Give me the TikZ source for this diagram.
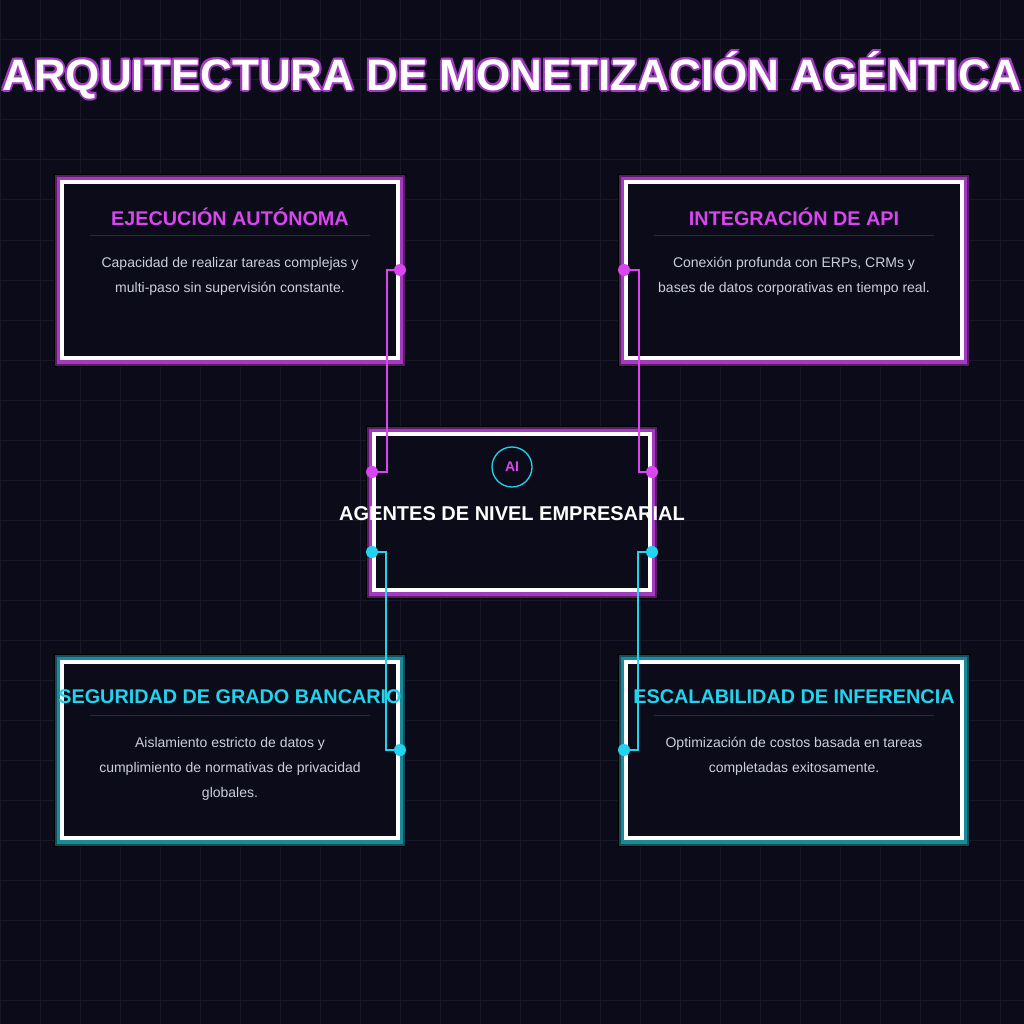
\documentclass[tikz,border=0pt]{standalone}
\usepackage{fontspec}
\setmainfont{Liberation Sans}
\definecolor{bg}{HTML}{0B0B1A}
\definecolor{gridc}{HTML}{181828}
\definecolor{mag}{HTML}{D946EF}
\definecolor{cyn}{HTML}{22D3EE}
\definecolor{magA}{HTML}{5C1A6A}
\definecolor{magB}{HTML}{A23BBF}
\definecolor{cynA}{HTML}{0E4F5B}
\definecolor{cynB}{HTML}{1A8A9A}
\definecolor{body}{HTML}{CBD0DC}
\definecolor{sep}{HTML}{2C2C40}
\tikzset{
 boxtitle/.style={font=\fontsize{19.8}{22}\selectfont\bfseries,anchor=center},
 boxbody/.style={font=\fontsize{14}{25}\selectfont,text=body,align=center,anchor=north},
 conn/.style={line width=1.5pt},
 dot/.style={circle,inner sep=0pt,minimum size=12pt},
 titlef/.style={font=\fontsize{44}{50}\selectfont\bfseries},
}
\newcommand{\glowbox}[6]{% x1 y1 x2 y2 colA colB
 \fill[black] (#1-6,#2-6) rectangle (#3+6,#4+7);
 \fill[#5] (#1-5,#2-5) rectangle (#3+5,#4+6);
 \fill[#6] (#1-3,#2-3) rectangle (#3+3,#4+4);
 \fill[bg] (#1,#2) rectangle (#3,#4);
 \draw[white,line width=4pt] (#1+2,#2+2) rectangle (#3-2,#4-2);
}
\begin{document}
\begin{tikzpicture}[x=1pt,y=-1pt]
\fill[bg] (0,0) rectangle (1024,1024);
\useasboundingbox (0,0) rectangle (1024,1024);
\foreach \i in {0,40,...,1000}{
 \draw[gridc,line width=1pt] (\i,0) -- (\i,1024);
 \draw[gridc,line width=1pt] (0,\i) -- (1024,\i);}
% title
\foreach \dx/\dy in {-2/0,2/0,0/-2,0/2,-1.5/-1.5,1.5/1.5,-1.5/1.5,1.5/-1.5}
 \node[text=magB,titlef] at (512+\dx,75+\dy) {ARQUITECTURA DE MONETIZACIÓN AGÉNTICA};
\node[text=white,titlef] (title) at (512,75) {ARQUITECTURA DE MONETIZACIÓN AGÉNTICA};
% boxes
\glowbox{60}{180}{400}{360}{magA}{magB}
\glowbox{624}{180}{964}{360}{magA}{magB}
\glowbox{60}{660}{400}{840}{cynA}{cynB}
\glowbox{624}{660}{964}{840}{cynA}{cynB}
\glowbox{372}{432}{652}{592}{magA}{magB}
% TL
\node[boxtitle,text=mag] (t1) at (230,217) {EJECUCIÓN AUTÓNOMA};
\draw[sep] (90,235) -- (370,235);
\node[boxbody] (b1) at (230,254) {Capacidad de realizar tareas complejas y\\multi-paso sin supervisión constante.};
% TR
\node[boxtitle,text=mag] (t2) at (794,217) {INTEGRACIÓN DE API};
\draw[sep] (654,235) -- (934,235);
\node[boxbody] (b2) at (794,254) {Conexión profunda con ERPs, CRMs y\\bases de datos corporativas en tiempo real.};
% BL
\node[boxtitle,text=cyn] (t3) at (230,697) {SEGURIDAD DE GRADO BANCARIO};
\draw[sep] (90,715) -- (370,715);
\node[boxbody] (b3) at (230,734) {Aislamiento estricto de datos y\\cumplimiento de normativas de privacidad\\globales.};
% BR
\node[boxtitle,text=cyn] (t4) at (794,697) {ESCALABILIDAD DE INFERENCIA};
\draw[sep] (654,715) -- (934,715);
\node[boxbody] (b4) at (794,734) {Optimización de costos basada en tareas\\completadas exitosamente.};
% center
\node[circle,draw=cyn,line width=1.3pt,minimum size=40pt,inner sep=0pt,text=mag,font=\fontsize{14}{16}\selectfont\bfseries] (ai) at (512,467) {AI};
\node[text=white,font=\fontsize{20}{24}\selectfont\bfseries] (center) at (512,514) {AGENTES DE NIVEL EMPRESARIAL};
% connectors
\coordinate (p1) at (400,270); \coordinate (q1) at (372,472);
\coordinate (p2) at (624,270); \coordinate (q2) at (652,472);
\coordinate (p3) at (400,750); \coordinate (q3) at (372,552);
\coordinate (p4) at (624,750); \coordinate (q4) at (652,552);
\draw[conn,mag] (p1) -| (387,472) -- (q1);
\draw[conn,mag] (p2) -| (639,472) -- (q2);
\draw[conn,cyn] (q3) -| (386,750) -- (p3);
\draw[conn,cyn] (q4) -| (638,750) -- (p4);
\foreach \p in {p1,q1,p2,q2} \node[dot,fill=mag] at (\p) {};
\foreach \p in {p3,q3,p4,q4} \node[dot,fill=cyn] at (\p) {};
\end{tikzpicture}
\end{document}
